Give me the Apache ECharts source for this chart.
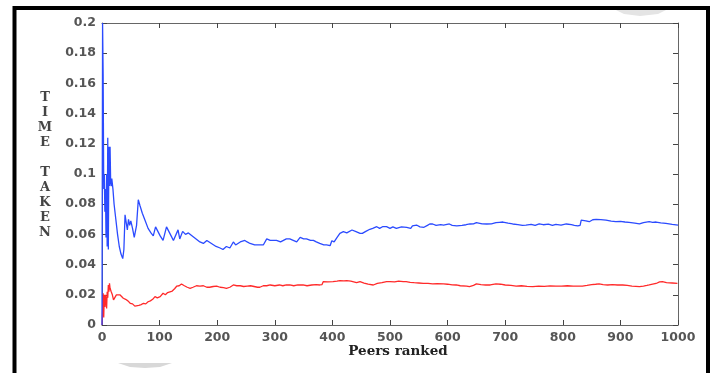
<!DOCTYPE html>
<html>
<head>
<meta charset="utf-8">
<script src="https://cdn.jsdelivr.net/npm/echarts@6/dist/echarts.min.js"></script>
<style>
html,body{margin:0;padding:0;background:#fff;}
#chart{width:716px;height:373px;}
</style>
</head>
<body>
<div id="chart"></div>
<script>
// Blue series: [peers ranked, time taken]
var blueSeries = [
[0,0],[1,0.2],[2,0.165],[3,0.09],[4,0.1],[5,0.075],[6,0.09],[7,0.058],[8,0.1],[9,0.052],[10,0.124],[11,0.05],[12,0.118],[13,0.092],[14,0.118],[15,0.095],[16,0.092],[17,0.097],
[19,0.09],[21,0.08],[24,0.07],[27,0.06],[30,0.052],[33,0.047],[36,0.044],[38,0.05],[40,0.073],[42,0.068],[44,0.063],[46,0.07],[48,0.066],[50,0.069],[53,0.064],[56,0.058],[58,0.057],[60,0.066],[63,0.083],[66,0.079],[70,0.074],[75,0.069],[80,0.064],[85,0.061],[89,0.059],[93,0.065],[97,0.062],[101,0.059],[106,0.056],[112,0.065],[116,0.062],[120,0.059],[124,0.056],[132,0.063],[135,0.057],[140,0.062],[145,0.06],[150,0.061],[153,0.06],[160,0.058],[170,0.055],[176,0.054],[182,0.056],[186,0.055],[190,0.054],[198,0.052],[205,0.051],[210,0.05],[216,0.052],[222,0.051],[228,0.055],[232,0.053],[234,0.052],[240,0.055],[248,0.056],[252,0.055],[257,0.054],[265,0.053],[272,0.053],[280,0.053],[286,0.057],[292,0.056],[303,0.056],[310,0.055],[320,0.057],[326,0.057],[332,0.056],[338,0.055],[344,0.058],[350,0.057],[355,0.057],[362,0.056],[367,0.056],[372,0.055],[378,0.054],[385,0.053],[390,0.053],[396,0.0525],[399,0.0558],[403,0.055],[407,0.0574],[410,0.057],[413,0.0607],[419,0.0618],[425,0.061],[434,0.0629],[441,0.0618],[448,0.0607],[452,0.0607],[458,0.062],[465,0.0634],[470,0.064],[477,0.0651],[482,0.064],[487,0.0651],[494,0.0651],[500,0.064],[505,0.065],[511,0.064],[520,0.065],[529,0.0647],[531,0.0634],[536,0.064],[539,0.0656],[546,0.0662],[552,0.065],[559,0.0647],[565,0.066],[569,0.0669],[574,0.0669],[580,0.066],[588,0.0665],[593,0.0662],[603,0.0669],[608,0.066],[616,0.0656],[625,0.066],[632,0.0664],[639,0.0669],[645,0.067],[650,0.0678],[660,0.067],[668,0.0669],[676,0.067],[684,0.0678],[690,0.068],[696,0.0682],[705,0.0675],[713,0.0669],[722,0.0665],[730,0.066],[736,0.0662],[745,0.0667],[752,0.066],[759,0.0669],[766,0.0664],[775,0.0668],[782,0.066],[788,0.0667],[797,0.0662],[806,0.0669],[815,0.0665],[820,0.066],[826,0.0656],[830,0.066],[832,0.0695],[840,0.069],[846,0.0684],[852,0.0697],[858,0.07],[866,0.0698],[875,0.0695],[884,0.0688],[892,0.0684],[900,0.0686],[908,0.0682],[915,0.068],[925,0.0674],[933,0.0669],[940,0.0678],[950,0.0684],[956,0.068],[962,0.0682],[970,0.0677],[979,0.0673],[990,0.0667],[1000,0.0662]
];
// Red series: [peers ranked, time taken]
var redSeries = [
[0,0],[1,0.01],[2,0.021],[3,0.005],[4,0.02],[5,0.012],[6,0.02],[7,0.015],[8,0.011],[9,0.022],[10,0.018],[11,0.0265],[12,0.022],[13,0.0276],[14,0.0243],[16,0.022],[18,0.02],[20,0.0166],[22,0.018],[25,0.0199],[28,0.0188],[31,0.02],[34,0.019],[37,0.0177],[41,0.017],[45,0.016],[49,0.0144],[53,0.014],[57,0.0125],[60,0.0117],[64,0.013],[68,0.0135],[72,0.0144],[76,0.014],[80,0.0154],[84,0.016],[88,0.017],[92,0.0188],[96,0.018],[101,0.0188],[106,0.021],[110,0.02],[114,0.0215],[118,0.022],[122,0.0225],[126,0.024],[130,0.0258],[134,0.026],[138,0.0272],[143,0.026],[148,0.025],[153,0.0243],[158,0.025],[164,0.026],[170,0.0258],[176,0.026],[182,0.025],[187,0.025],[193,0.0255],[199,0.0258],[205,0.025],[211,0.0248],[216,0.0243],[222,0.025],[228,0.0265],[234,0.026],[240,0.026],[246,0.0255],[252,0.0258],[258,0.026],[264,0.0255],[270,0.025],[274,0.025],[280,0.026],[286,0.026],[292,0.0265],[300,0.026],[308,0.0265],[314,0.026],[320,0.0265],[326,0.0265],[333,0.026],[340,0.0265],[349,0.0265],[356,0.026],[364,0.0265],[372,0.0268],[378,0.0265],[382,0.0268],[384,0.0287],[392,0.0285],[401,0.0287],[408,0.029],[413,0.0294],[420,0.0292],[425,0.0294],[432,0.029],[442,0.028],[448,0.0287],[455,0.0278],[462,0.027],[471,0.0265],[478,0.0275],[486,0.028],[494,0.0287],[500,0.0287],[508,0.0285],[515,0.029],[523,0.0287],[528,0.0287],[535,0.0282],[542,0.028],[550,0.0278],[558,0.0276],[566,0.0275],[574,0.0272],[582,0.0274],[593,0.0272],[600,0.027],[608,0.0266],[615,0.0265],[622,0.026],[633,0.0258],[638,0.0254],[645,0.0262],[650,0.0272],[658,0.0268],[666,0.0265],[674,0.0265],[684,0.0272],[692,0.027],[700,0.0265],[710,0.0262],[719,0.0258],[728,0.026],[738,0.0256],[748,0.0254],[758,0.0258],[768,0.0256],[778,0.0259],[788,0.0258],[798,0.0257],[808,0.026],[818,0.0258],[826,0.0257],[834,0.0258],[842,0.0262],[850,0.0268],[857,0.027],[863,0.0272],[870,0.0268],[878,0.0265],[886,0.0267],[895,0.0265],[904,0.0265],[912,0.0262],[920,0.0258],[927,0.0256],[933,0.0254],[940,0.0258],[946,0.0262],[950,0.0265],[956,0.027],[962,0.0275],[968,0.0285],[973,0.0287],[980,0.028],[990,0.0278],[999,0.0276]
];
var xTicks = [0,100,200,300,400,500,600,700,800,900,1000];
var yTicks = [0,0.02,0.04,0.06,0.08,0.1,0.12,0.14,0.16,0.18,0.2];
var xTitle = 'Peers ranked';
var yTitle = 'TIME TAKEN';

var chart = echarts.init(document.getElementById('chart'));
var labelStyle = {color:'#555', fontFamily:'DejaVu Sans', fontWeight:'bold', fontSize:12.5};
var axisLineStyle = {onZero:false, lineStyle:{color:'#666', width:1}};
var tickStyle = {inside:true, length:5, lineStyle:{color:'#444', width:1}};
var xMin = xTicks[0], xMax = xTicks[xTicks.length-1], xInt = xTicks[1]-xTicks[0];
var yMin = yTicks[0], yMax = yTicks[yTicks.length-1], yInt = yTicks[1]-yTicks[0];

chart.setOption({
  animation:false,
  backgroundColor:'#fff',
  grid:{left:102, right:38, top:23, bottom:48, containLabel:false},
  xAxis:[
    {type:'value', min:xMin, max:xMax, interval:xInt, position:'bottom',
     axisLine:axisLineStyle, axisTick:tickStyle, splitLine:{show:false},
     axisLabel:Object.assign({margin:6, formatter:function(v){return String(v);}}, labelStyle)},
    {type:'value', min:xMin, max:xMax, interval:xInt, position:'top',
     axisLine:axisLineStyle, axisTick:tickStyle, splitLine:{show:false},
     axisLabel:{show:false}}
  ],
  yAxis:[
    {type:'value', min:yMin, max:yMax, interval:yInt, position:'left',
     axisLine:axisLineStyle, axisTick:tickStyle, splitLine:{show:false},
     axisLabel:Object.assign({margin:6, formatter:function(v){return String(+v.toFixed(2));}}, labelStyle)},
    {type:'value', min:yMin, max:yMax, interval:yInt, position:'right',
     axisLine:axisLineStyle, axisTick:tickStyle, splitLine:{show:false},
     axisLabel:{show:false}}
  ],
  series:[
    {type:'line', data:blueSeries, xAxisIndex:0, yAxisIndex:0, showSymbol:false, symbol:'none',
     lineStyle:{color:'#2b4bff', width:1.3}, z:3},
    {type:'line', data:redSeries, xAxisIndex:0, yAxisIndex:0, showSymbol:false, symbol:'none',
     lineStyle:{color:'#ff2a2a', width:1.3}, z:2}
  ],
  graphic:[
    {type:'text', x:398, y:351,
     style:{text:xTitle, fill:'#222', font:'bold 13.5px "DejaVu Serif"', textAlign:'center', textVerticalAlign:'middle'}},
    {type:'text', x:45, y:90,
     style:{text:yTitle.split('').join('\n'), fill:'#444', font:'bold 13px "DejaVu Serif"', lineHeight:15, textAlign:'center', textVerticalAlign:'top'}},
    {type:'rect', shape:{x:14.5, y:8, width:693.5, height:420},
     style:{fill:null, stroke:'#000', lineWidth:4}, z:10},
    {type:'polygon', shape:{points:[[616,10],[666,10],[658,14],[640,16],[624,14]]},
     style:{fill:'#e4e4e4'}, z:1},
    {type:'polygon', shape:{points:[[118,363],[172,363],[160,367],[145,368],[130,367]]},
     style:{fill:'#d8d8d8'}, z:1}
  ]
});
</script>
</body>
</html>
